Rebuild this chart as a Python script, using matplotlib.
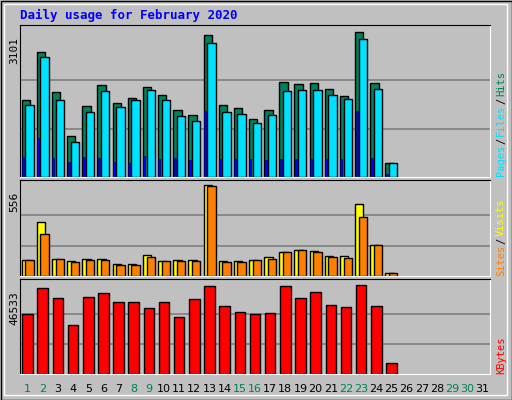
import numpy as np
import matplotlib
matplotlib.use("Agg")
import matplotlib.pyplot as plt

days = np.arange(1, 32)
hits = [1640, 2680, 1820, 880, 1520, 1970, 1580, 1700, 1930, 1760, 1430, 1330, 3040,
        1540, 1480, 1250, 1430, 2030, 1990, 2010, 1890, 1740, 3101, 2010, 310]
files = [1540, 2560, 1640, 740, 1400, 1840, 1500, 1640, 1860, 1640, 1300, 1200, 2860,
         1390, 1350, 1150, 1330, 1840, 1860, 1860, 1760, 1680, 2960, 1880, 310]
pages = [420, 830, 410, 320, 420, 400, 320, 300, 460, 380, 400, 360, 1410,
         380, 380, 380, 360, 380, 380, 380, 380, 380, 1410, 400, 60]
visits = [100, 330, 106, 90, 106, 106, 70, 70, 130, 90, 96, 96, 556,
          90, 90, 96, 118, 148, 160, 154, 124, 124, 440, 190, 20]
sites = [100, 256, 102, 86, 100, 95, 68, 68, 118, 90, 94, 94, 550,
         86, 86, 96, 106, 148, 160, 148, 115, 112, 356, 190, 20]
kbytes = [31000, 44000, 39300, 25300, 39800, 41900, 37200, 37200, 34100, 37200, 29400, 38800, 45500,
          35100, 32000, 30900, 31500, 45500, 39300, 42400, 35700, 34600, 46000, 35100, 5600]
weekend = {1, 2, 8, 9, 15, 16, 22, 23, 29, 30}

W, H = 512, 400
fig = plt.figure(figsize=(W / 100, H / 100), dpi=100, facecolor="#C0C0C0")
bg = fig.add_axes([0, 0, 1, 1])
bg.set_xlim(0, W); bg.set_ylim(H, 0); bg.axis("off")
bg.add_patch(plt.Rectangle((0.5, 0.5), W - 1, H - 1, fill=False, ec="black", lw=1))
bg.add_patch(plt.Rectangle((4, 4), W - 9, H - 9, fill=False, ec="white", lw=1))
bg.text(20, 15, "Daily usage for February 2020", color="#0000FF", fontsize=9,
        family="DejaVu Sans Mono", fontweight="bold", va="center")


def panel(y0, y1, top, label):
    ax = fig.add_axes([20 / W, 1 - y1 / H, (490 - 20) / W, (y1 - y0) / H])
    ax.set_facecolor("#C0C0C0")
    ax.set_xlim(0.5, 31.5)
    ax.set_ylim(0, top * 1.05)
    for f in (1 / 3, 2 / 3):
        ax.axhline(top * f, color="#808080", lw=1.2, zorder=0)
    ax.set_xticks([]); ax.set_yticks([])
    for s in ax.spines.values():
        s.set_color("black")
    ax.spines["right"].set_color("white"); ax.spines["bottom"].set_color("white")
    fig.text(14 / W, 1 - (y0 + 12) / H, label, rotation=90, fontsize=8,
             family="DejaVu Sans Mono", ha="center", va="top")
    return ax


n = len(hits)
x = days[:n]
ax1 = panel(25, 177, 3101, "3101")
ax1.bar(x - 0.12, hits, width=0.55, color="#00805C", ec="black", lw=1)
ax1.bar(x + 0.12, files, width=0.55, color="#00E0FF", ec="black", lw=1)
ax1.bar(x - 0.3, pages, width=0.13, color="#0000FF", ec="#000080", lw=0.5)

ax2 = panel(180, 276, 556, "556")
ax2.bar(x - 0.12, visits, width=0.55, color="#FFFF00", ec="black", lw=1)
ax2.bar(x + 0.12, sites, width=0.55, color="#FF8000", ec="black", lw=1)

ax3 = panel(279, 374, 46533, "46533")
ax3.bar(x, kbytes, width=0.7, color="#FF0000", ec="black", lw=1)

for d in days:
    px = 20 + (d - 0.5) / 31 * 470
    bg.text(px, 389, str(d), ha="center", va="center", fontsize=8,
            color="#00805C" if d in weekend else "black")


def side(y, parts):
    for txt, col in parts:
        bg.text(501, y, txt, rotation=90, color=col, fontsize=7.5,
                family="DejaVu Sans Mono", ha="center", va="bottom")
        y -= len(txt) * 6.3 + 1


side(176, [("Pages", "#00E0FF"), ("/", "black"), ("Files", "#00E0FF"), ("/", "black"), ("Hits", "#00805C")])
side(276, [("Sites", "#FF8000"), ("/", "black"), ("Visits", "#FFFF00")])
side(374, [("KBytes", "#FF0000")])

fig.savefig("out.png", dpi=100, facecolor=fig.get_facecolor())
